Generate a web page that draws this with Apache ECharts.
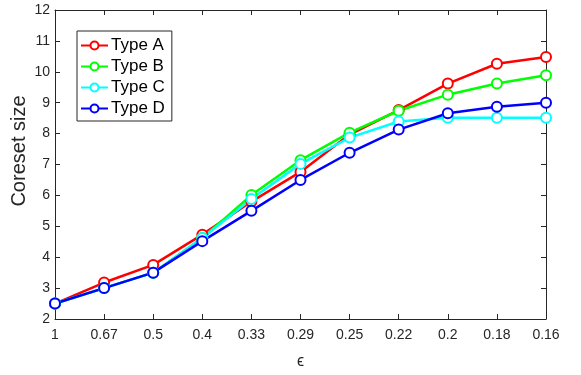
<html>
<head>
<meta charset="utf-8">
<script src="https://cdn.jsdelivr.net/npm/echarts@6/dist/echarts.min.js"></script>
<style>
html, body { margin: 0; padding: 0; background: #fff; }
#main { width: 581px; height: 375px; }
</style>
</head>
<body>
<div id="main"></div>
<script>
// x categories (epsilon)
var epsLabels = ['1', '0.67', '0.5', '0.4', '0.33', '0.29', '0.25', '0.22', '0.2', '0.18', '0.16'];
// coreset size per type
var typeA = [2.5, 3.18, 3.75, 4.73, 5.8, 6.76, 7.97, 8.76, 9.62, 10.26, 10.48];
var typeB = [2.5, 3.0, 3.5, 4.62, 6.01, 7.14, 8.03, 8.74, 9.26, 9.62, 9.89];
var typeC = [2.5, 3.0, 3.5, 4.62, 5.88, 7.02, 7.87, 8.39, 8.51, 8.51, 8.51];
var typeD = [2.5, 3.0, 3.5, 4.52, 5.5, 6.5, 7.38, 8.13, 8.66, 8.87, 9.0];

var axisColor = '#262626';
var font = 'Liberation Sans, Arial, sans-serif';

function mkSeries(name, data, color) {
    return {
        name: name,
        type: 'line',
        data: data,
        xAxisIndex: 0,
        yAxisIndex: 0,
        symbol: 'emptyCircle',
        symbolSize: 10,
        lineStyle: { color: color, width: 2.5 },
        itemStyle: { color: color, borderColor: color, borderWidth: 2 },
        emphasis: { disabled: true }
    };
}

var chart = echarts.init(document.getElementById('main'));
chart.setOption({
    animation: false,
    backgroundColor: '#fff',
    grid: { left: 55, right: 35, top: 10, bottom: 53 },
    legend: {
        orient: 'vertical',
        left: 77,
        top: 31,
        padding: [6, 7, 4, 3],
        itemGap: 4,
        itemWidth: 27,
        itemHeight: 10,
        borderColor: axisColor,
        borderWidth: 1,
        backgroundColor: '#fff',
        textStyle: { fontFamily: font, fontSize: 17, color: '#000', padding: [0, 0, 0, -2] },
        data: ['Type A', 'Type B', 'Type C', 'Type D']
    },
    graphic: [{
        type: 'text',
        x: 19,
        y: 151,
        rotation: Math.PI / 2,
        style: {
            text: 'Coreset size',
            fontFamily: font,
            fontSize: 20,
            fill: axisColor,
            align: 'center',
            verticalAlign: 'middle'
        }
    }],
    xAxis: [{
        type: 'category',
        data: epsLabels,
        boundaryGap: false,
        name: 'ϵ',
        nameLocation: 'middle',
        nameGap: 35,
        nameTextStyle: { fontFamily: font, fontSize: 16, color: axisColor },
        axisLine: { lineStyle: { color: axisColor, width: 1 } },
        axisTick: { inside: true, length: 5, lineStyle: { color: axisColor } },
        axisLabel: { fontFamily: font, fontSize: 14, color: axisColor, margin: 9 },
        splitLine: { show: false }
    }, {
        type: 'category',
        data: epsLabels,
        boundaryGap: false,
        position: 'top',
        axisLine: { lineStyle: { color: axisColor, width: 1 } },
        axisTick: { inside: true, length: 5, lineStyle: { color: axisColor } },
        axisLabel: { show: false },
        splitLine: { show: false }
    }],
    yAxis: [{
        type: 'value',
        min: 2,
        max: 12,
        interval: 1,
        axisLine: { show: true, lineStyle: { color: axisColor, width: 1 } },
        axisTick: { show: true, inside: true, length: 5, lineStyle: { color: axisColor } },
        axisLabel: { fontFamily: font, fontSize: 14, color: axisColor, margin: 5 },
        splitLine: { show: false }
    }, {
        type: 'value',
        min: 2,
        max: 12,
        interval: 1,
        position: 'right',
        axisLine: { show: true, lineStyle: { color: axisColor, width: 1 } },
        axisTick: { show: true, inside: true, length: 5, lineStyle: { color: axisColor } },
        axisLabel: { show: false },
        splitLine: { show: false }
    }],
    series: [
        mkSeries('Type A', typeA, '#ff0000'),
        mkSeries('Type B', typeB, '#00ff00'),
        mkSeries('Type C', typeC, '#00ffff'),
        mkSeries('Type D', typeD, '#0000ff')
    ]
});
</script>
</body>
</html>
